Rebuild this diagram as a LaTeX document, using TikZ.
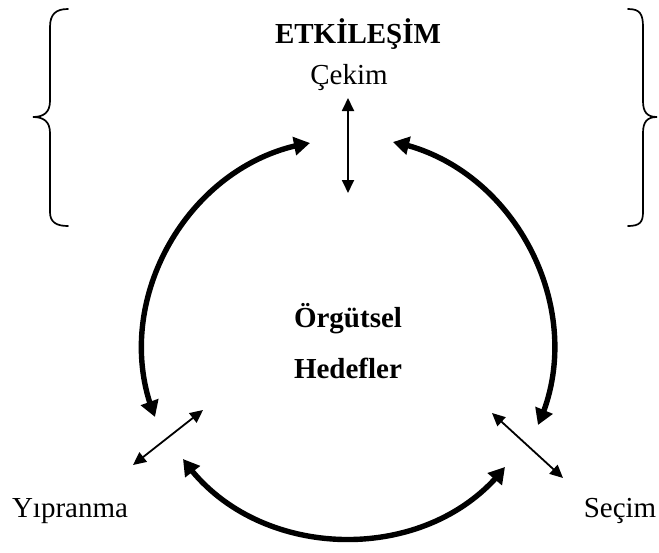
\documentclass[tikz,border=0pt]{standalone}
\usepackage{fontspec}
\setmainfont{Liberation Serif}
\usetikzlibrary{arrows.meta,bending}
\begin{document}
\begin{tikzpicture}[x=1pt,y=-1pt,
  lbl/.style={inner sep=0pt,anchor=base,font=\fontsize{29}{34}\selectfont},
  blbl/.style={lbl,font=\fontsize{29}{34}\selectfont\bfseries},
  thickarc/.style={line width=5.4pt,{Triangle[length=16pt,width=18pt]}-{Triangle[length=16pt,width=18pt]}},
  thinarrow/.style={line width=1.8pt,{Triangle[length=13pt,width=12pt]}-{Triangle[length=13pt,width=12pt]}},
  bracestyle/.style={line width=1.7pt,line cap=round}]
\useasboundingbox (0,0) rectangle (659,552);

% braces
\draw[bracestyle] (68,9) .. controls (56,9) and (50,14) .. (50,27) -- (50,101)
  .. controls (50,112) and (44,117) .. (33,117)
  .. controls (44,117) and (50,122) .. (50,133) -- (50,212)
  .. controls (50,222) and (56,226) .. (68,226);
\draw[bracestyle] (628,9) .. controls (640,9) and (643,14) .. (643,27) -- (643,101)
  .. controls (643,112) and (647,117) .. (657,117)
  .. controls (647,117) and (643,122) .. (643,133) -- (643,212)
  .. controls (643,222) and (640,226) .. (628,226);

% texts
\node[blbl] (etk) at (358,43) {ETKİLEŞİM};
\node[lbl] (cekim) at (349,84) {Çekim};
\node[blbl] (org) at (348,327) {Örgütsel};
\node[blbl] (hed) at (348,378) {Hedefler};
\node[lbl] (yip) at (70,517) {Yıpranma};
\node[lbl] (sec) at (620,517) {Seçim};

% coordinates
\coordinate (vt) at (348,98);
\coordinate (vb) at (348,193);
\coordinate (tlA) at (155,417);
\coordinate (tlB) at (310,143);
\coordinate (trA) at (393,142);
\coordinate (trB) at (538,425);
\coordinate (bA) at (183,459);
\coordinate (bB) at (505,467);
\coordinate (yA) at (203,410);
\coordinate (yB) at (133,465);
\coordinate (sA) at (492,413);
\coordinate (sB) at (563,478);

% arrows
\draw[thinarrow] (vt) -- (vb);
\draw[thinarrow] (yA) -- (yB);
\draw[thinarrow] (sA) -- (sB);
\draw[thickarc] (tlA) to[bend left=52] (tlB);
\draw[thickarc] (trA) to[bend left=52] (trB);
\draw[thickarc] (bA) to[bend right=54] (bB);
\end{tikzpicture}
\end{document}
